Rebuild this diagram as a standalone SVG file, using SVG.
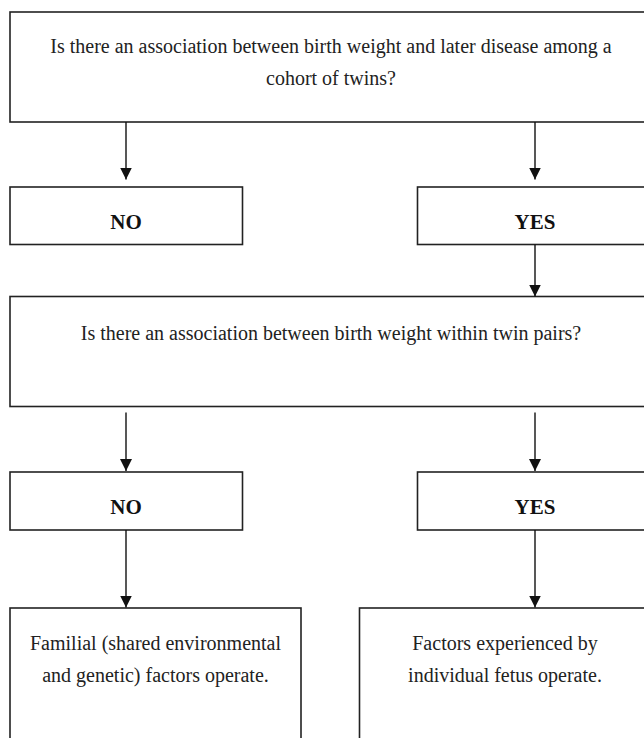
<svg xmlns="http://www.w3.org/2000/svg" width="644" height="738" viewBox="0 0 644 738">
<style>
.box{fill:#fff;stroke:#222;stroke-width:1.6}
.t{font-family:"Liberation Serif","Times New Roman",serif;font-size:20px;fill:#222;text-anchor:middle}
.b{font-family:"Liberation Serif","Times New Roman",serif;font-size:21px;font-weight:bold;fill:#111;text-anchor:middle}
.c{stroke:#111;stroke-width:1.4;fill:none}
</style>
<defs>
<marker id="ah" viewBox="0 0 12 12" refX="12" refY="6" markerWidth="12" markerHeight="12" markerUnits="userSpaceOnUse" orient="auto">
<path d="M0,0 L12,6 L0,12 Z" fill="#111"/>
</marker>
</defs>
<rect width="644" height="738" fill="#fff"/>
<g id="q1">
<rect class="box" x="10" y="12" width="642" height="110"/>
<text class="t" x="331" y="53">Is there an association between birth weight and later disease among a</text>
<text class="t" x="331" y="85">cohort of twins?</text>
</g>
<g id="no1">
<rect class="box" x="10" y="187" width="232.5" height="57.5"/>
<text class="b" x="126" y="229">NO</text>
</g>
<g id="yes1">
<rect class="box" x="417.5" y="187" width="234.5" height="57.5"/>
<text class="b" x="535" y="229">YES</text>
</g>
<g id="q2">
<rect class="box" x="10" y="296.5" width="642" height="110"/>
<text class="t" x="331" y="340">Is there an association between birth weight within twin pairs?</text>
</g>
<g id="no2">
<rect class="box" x="10" y="472" width="232.5" height="58"/>
<text class="b" x="126" y="514">NO</text>
</g>
<g id="yes2">
<rect class="box" x="417.5" y="472" width="234.5" height="58"/>
<text class="b" x="535" y="514">YES</text>
</g>
<g id="r1">
<rect class="box" x="10" y="608" width="291" height="140"/>
<text class="t" x="155.5" y="650">Familial (shared environmental</text>
<text class="t" x="155.5" y="681.5">and genetic) factors operate.</text>
</g>
<g id="r2">
<rect class="box" x="359.5" y="608" width="292" height="140"/>
<text class="t" x="505" y="650">Factors experienced by</text>
<text class="t" x="505" y="681.5">individual fetus operate.</text>
</g>
<g id="connectors">
<line class="c" x1="126" y1="122" x2="126" y2="179.5" marker-end="url(#ah)"/>
<line class="c" x1="535" y1="122" x2="535" y2="179.5" marker-end="url(#ah)"/>
<line class="c" x1="535" y1="244.5" x2="535" y2="296.5" marker-end="url(#ah)"/>
<line class="c" x1="126" y1="412.5" x2="126" y2="471" marker-end="url(#ah)"/>
<line class="c" x1="535" y1="412.5" x2="535" y2="471" marker-end="url(#ah)"/>
<line class="c" x1="126" y1="530" x2="126" y2="607.5" marker-end="url(#ah)"/>
<line class="c" x1="535" y1="530" x2="535" y2="607.5" marker-end="url(#ah)"/>
</g>
</svg>
